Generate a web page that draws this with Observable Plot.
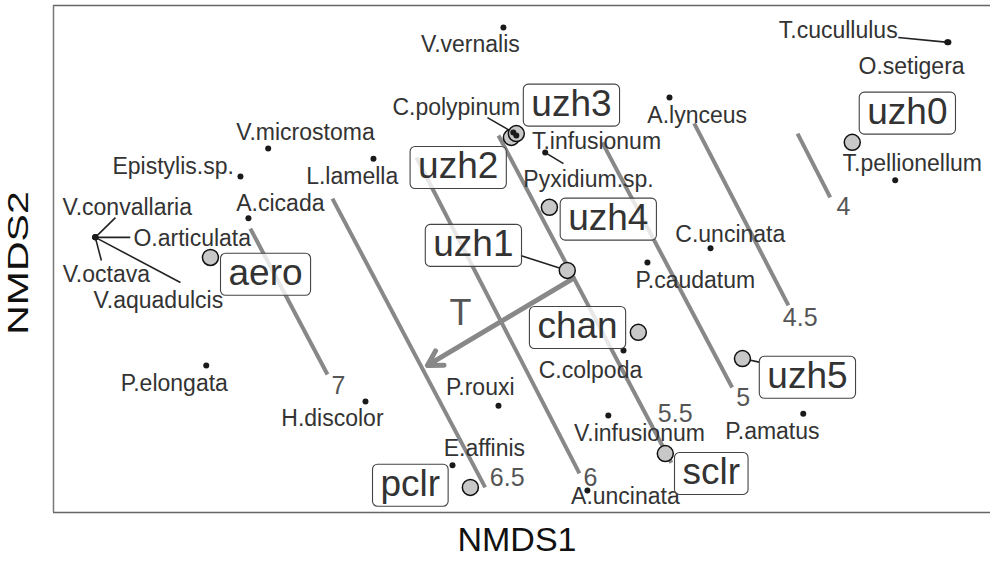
<!DOCTYPE html>
<html><head><meta charset="utf-8">
<script src="https://cdn.jsdelivr.net/npm/d3@7"></script>
<script src="https://cdn.jsdelivr.net/npm/@observablehq/plot@0.6"></script>
<style>body{margin:0;background:#fff;}</style>
</head><body><div id="chart"></div>
<script>
const FONT = '"Liberation Sans", Arial, Helvetica, sans-serif';

// Species scores (NMDS1, NMDS2) and their label positions
const speciesNames = ["V.vernalis","T.cucullulus","O.setigera","A.lynceus","C.polypinum","T.infusionum","Pyxidium.sp.","V.microstoma","Epistylis.sp.","L.lamella","A.cicada","V.convallaria","O.articulata","V.octava","V.aquadulcis","C.uncinata","P.caudatum","C.colpoda","P.elongata","H.discolor","P.rouxi","V.infusionum","P.amatus","E.affinis","A.uncinata","T.pellionellum"];
const speciesX = [-0.013,1.158,1.155,0.424,0.013,0.021,0.097,-0.632,-0.705,-0.355,-0.684,-1.087,-1.087,-1.087,-1.087,0.532,0.366,0.303,-0.795,-0.376,-0.026,0.263,0.776,-0.147,0.208,1.018];
const speciesY = [0.609,0.570,0.570,0.425,0.333,0.325,0.280,0.291,0.217,0.264,0.107,0.057,0.057,0.057,0.057,0.028,-0.009,-0.241,-0.280,-0.375,-0.386,-0.412,-0.407,-0.543,-0.609,0.207];
const speciesLabelX = [-0.100,0.868,1.061,0.497,-0.137,0.232,0.211,-0.534,-0.882,-0.411,-0.600,-1.003,-0.832,-1.058,-0.921,0.584,0.492,0.216,-0.879,-0.463,-0.074,0.345,0.695,-0.063,0.308,1.063];
const speciesLabelY = [0.564,0.601,0.507,0.378,0.399,0.309,0.209,0.333,0.243,0.217,0.146,0.136,0.054,-0.041,-0.109,0.064,-0.057,-0.293,-0.328,-0.420,-0.338,-0.459,-0.454,-0.499,-0.625,0.251];

// Site scores and label positions
const siteNames = ["uzh0","uzh1","uzh2","uzh3","uzh4","uzh5","aero","chan","sclr","pclr"];
const siteX = [0.905,0.155,0.008,0.021,0.108,0.616,-0.784,0.342,0.413,-0.100];
const siteY = [0.307,-0.030,0.320,0.330,0.136,-0.262,0.004,-0.193,-0.512,-0.601];
const siteLabelX = [1.050,-0.092,-0.132,0.166,0.263,0.787,-0.639,0.182,0.534,-0.258];
const siteLabelY = [0.386,0.038,0.243,0.407,0.107,-0.309,-0.038,-0.178,-0.562,-0.593];

// Fitted surface (T) contour segments and labels
const contourLevels = ["4","4.5","5","5.5","6","6.5","7"];
const contourX1 = [0.761,0.489,0.247,-0.026,-0.242,-0.463,-0.679];
const contourY1 = [0.330,0.357,0.307,0.325,0.267,0.159,0.080];
const contourX2 = [0.847,0.737,0.589,0.429,0.187,-0.061,-0.476];
const contourY2 = [0.162,-0.122,-0.338,-0.536,-0.564,-0.601,-0.304];
const contourLabelX = [0.882,0.768,0.618,0.439,0.216,-0.003,-0.447];
const contourLabelY = [0.136,-0.154,-0.367,-0.407,-0.575,-0.575,-0.333];

// Environmental vector
const vectorName = ["T"];
const vectorX = [0.171,-0.213];
const vectorY = [-0.051,-0.280];
const vectorLabelX = [-0.126];
const vectorLabelY = [-0.143];

// Label leader lines (from the named point to the label)
const leaderFrom = ["T.cucullulus","C.polypinum","Pyxidium.sp.","V.convallaria","O.articulata","V.octava","V.aquadulcis","uzh1","uzh5"];
const leaderToX = [1.026,-0.055,0.145,-1.034,-0.995,-1.071,-0.863,0.032,0.663];
const leaderToY = [0.583,0.372,0.251,0.109,0.057,-0.004,-0.062,0.009,-0.272];

const species = speciesNames.map((name,i)=>({name,x:speciesX[i],y:speciesY[i],lx:speciesLabelX[i],ly:speciesLabelY[i]}));
const sites = siteNames.map((name,i)=>({name,x:siteX[i],y:siteY[i],lx:siteLabelX[i],ly:siteLabelY[i]}));
const contours = contourLevels.map((level,i)=>({level,x1:contourX1[i],y1:contourY1[i],x2:contourX2[i],y2:contourY2[i],lx:contourLabelX[i],ly:contourLabelY[i]}));
const allPts = new Map([...species, ...sites].map(d=>[d.name,d]));
const leaders = leaderFrom.map((n,i)=>({x1:allPts.get(n).x,y1:allPts.get(n).y,x2:leaderToX[i],y2:leaderToY[i]}));
const vector = [{name:vectorName[0],x1:vectorX[0],y1:vectorY[0],x2:vectorX[1],y2:vectorY[1],lx:vectorLabelX[0],ly:vectorLabelY[0]}];

const xDomain = [-1.197, 1.2688];
const yDomain = [-0.667, 0.667];

const chart = Plot.plot({
  width: 990, height: 563,
  marginLeft: 53, marginRight: 0, marginTop: 5, marginBottom: 51,
  x: {domain: xDomain, axis: null},
  y: {domain: yDomain, axis: null},
  style: {fontFamily: FONT, background: "white"},
  marks: [
    Plot.link(contours, {x1:"x1", y1:"y1", x2:"x2", y2:"y2", stroke:"#888", strokeWidth:4}),
    Plot.text(contours, {x:"lx", y:"ly", text:"level", fontSize:25, fill:"#555", fontFamily:FONT}),
    Plot.arrow(vector, {x1:"x1", y1:"y1", x2:"x2", y2:"y2", stroke:"#888", strokeWidth:5, headLength:5}),
    Plot.text(vector, {x:"lx", y:"ly", text:"name", fontSize:36, fill:"#555", fontFamily:FONT}),
    Plot.link(leaders, {x1:"x1", y1:"y1", x2:"x2", y2:"y2", stroke:"#222", strokeWidth:1.6}),
    Plot.dot(sites, {x:"x", y:"y", r:8, fill:"#c8c8c8", stroke:"#111", strokeWidth:1.5}),
    Plot.dot(species, {x:"x", y:"y", r:3, fill:"#1a1a1a"}),
    Plot.text(species, {x:"lx", y:"ly", text:"name", fontSize:23, fill:"#333", fontFamily:FONT}),
    Plot.text(sites, {x:"lx", y:"ly", text:"name", fontSize:37, fill:"#333", fontFamily:FONT}),
    Plot.ruleY([yDomain[1], yDomain[0]], {stroke:"#666", strokeWidth:1.3}),
    Plot.ruleX([xDomain[0]], {stroke:"#777", strokeWidth:1.5}),
    Plot.text(["NMDS1"], {frameAnchor:"bottom", lineAnchor:"middle", textAnchor:"middle", dx:-5, dy:28, fontSize:34, fill:"#111", fontFamily:FONT}),
    Plot.text(["NMDS2"], {frameAnchor:"left", lineAnchor:"middle", textAnchor:"middle", dx:-35, dy:4, rotate:-90, fontSize:41, fill:"#111", fontFamily:FONT})
  ]
});
document.getElementById("chart").appendChild(chart);

// Boxes behind site labels (sized from the rendered text)
const siteSet = new Set(siteNames);
d3.select(chart).selectAll("text").filter(function() {
  return siteSet.has(this.textContent);
}).each(function() {
  const b = this.getBBox();
  const r = document.createElementNS("http://www.w3.org/2000/svg", "rect");
  r.setAttribute("x", b.x - 8);
  r.setAttribute("y", b.y + 1);
  r.setAttribute("width", b.width + 16);
  r.setAttribute("height", b.height + 1);
  r.setAttribute("rx", 5);
  r.setAttribute("fill", "white");
  r.setAttribute("fill-opacity", 0.8);
  r.setAttribute("stroke", "#444");
  r.setAttribute("stroke-width", 1.1);
  const t = this.getAttribute("transform");
  if (t) r.setAttribute("transform", t);
  this.parentNode.insertBefore(r, this);
});
d3.select(chart).selectAll("text").filter(function() {
  return this.textContent === "NMDS2";
}).attr("transform", function() {
  return (this.getAttribute("transform") || "") + " scale(1,0.72)";
});
</script></body></html>
